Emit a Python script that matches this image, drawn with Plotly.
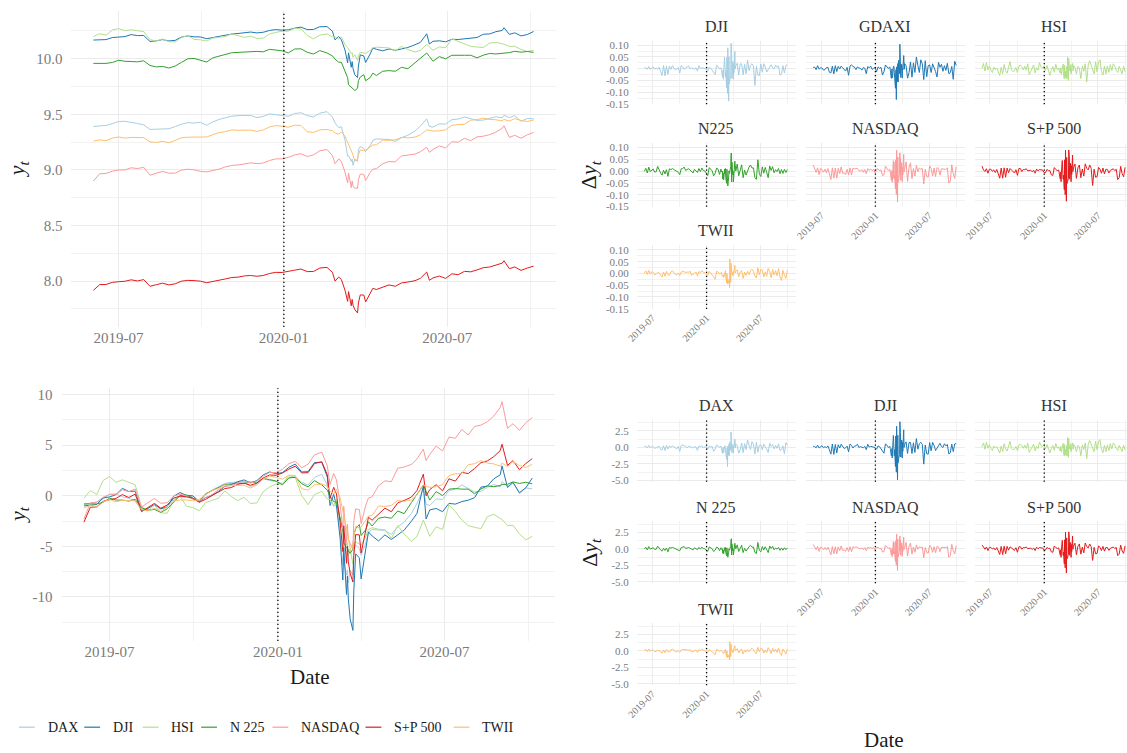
import pandas as pd
import plotly.graph_objects as go

# ---------------------------------------------------------------- dates
LEVEL_DATES = [
    "2019-06-03", "2019-06-10", "2019-06-17", "2019-06-24", "2019-07-01", "2019-07-08", "2019-07-15", "2019-07-22", "2019-07-29",
    "2019-08-05", "2019-08-12", "2019-08-19", "2019-08-26",
    "2019-09-02", "2019-09-09", "2019-09-16", "2019-09-23", "2019-09-30",
    "2019-10-07", "2019-10-14", "2019-10-21", "2019-10-28",
    "2019-11-04", "2019-11-11", "2019-11-18", "2019-11-25",
    "2019-12-02", "2019-12-09", "2019-12-16", "2019-12-23", "2019-12-30",
    "2020-01-06", "2020-01-13", "2020-01-20", "2020-01-27",
    "2020-02-03", "2020-02-10", "2020-02-18", "2020-02-24", "2020-02-27",
    "2020-03-02", "2020-03-05", "2020-03-09", "2020-03-12", "2020-03-13", "2020-03-16", "2020-03-17", "2020-03-18", "2020-03-20", "2020-03-23", "2020-03-24", "2020-03-26", "2020-03-30",
    "2020-04-01", "2020-04-06", "2020-04-09", "2020-04-13", "2020-04-20", "2020-04-27",
    "2020-05-04", "2020-05-11", "2020-05-18", "2020-05-26",
    "2020-06-01", "2020-06-08", "2020-06-11", "2020-06-15", "2020-06-22", "2020-06-29",
    "2020-07-06", "2020-07-13", "2020-07-20", "2020-07-27",
    "2020-08-03", "2020-08-10", "2020-08-17", "2020-08-24", "2020-08-31",
    "2020-09-02", "2020-09-08", "2020-09-14", "2020-09-21", "2020-09-28",
    "2020-10-05",
]

# return observation dates: every fifth day in calm stretches, every session around the crash
RET_DATES = (list(pd.date_range("2019-06-04", "2020-02-19", freq="5D"))
             + list(pd.bdate_range("2020-02-20", "2020-04-09"))
             + list(pd.date_range("2020-04-14", "2020-10-01", freq="5D")))

NAMES = ["DAX", "DJI", "HSI", "N 225", "NASDAQ", "S+P 500", "TWII"]
FACET_NAMES_LOG = ["DJI", "GDAXI", "HSI", "N225", "NASDAQ", "S+P 500", "TWII"]
PALETTE = ["#A6CEE3", "#1F78B4", "#B2DF8A", "#33A02C", "#FB9A99", "#E31A1C", "#FDBF6F"]

# ---------------------------------------------------------------- log index levels y_t
log_dax = [9.390, 9.396, 9.400, 9.415, 9.435, 9.437, 9.424, 9.417, 9.405,
           9.364, 9.366, 9.369, 9.370,
           9.389, 9.411, 9.425, 9.421, 9.428,
           9.401, 9.432, 9.454, 9.468,
           9.483, 9.488, 9.489, 9.490,
           9.470, 9.481, 9.504, 9.496, 9.492,
           9.482, 9.507, 9.514, 9.488,
           9.476, 9.510, 9.524, 9.475, 9.423,
           9.381, 9.388, 9.271, 9.123, 9.130, 9.076, 9.098, 9.041, 9.097, 9.076, 9.180, 9.210, 9.192,
           9.164, 9.218, 9.265, 9.278, 9.276, 9.274,
           9.256, 9.290, 9.311, 9.350,
           9.394, 9.459, 9.390, 9.385, 9.414, 9.412,
           9.452, 9.457, 9.476, 9.460,
           9.445, 9.448, 9.466, 9.478, 9.468,
           9.491, 9.470, 9.488, 9.437, 9.463,
           9.459]
log_dji = [10.168, 10.170, 10.172, 10.190, 10.193, 10.199, 10.217, 10.208, 10.209,
           10.155, 10.161, 10.172, 10.160,
           10.165, 10.195, 10.205, 10.197, 10.196,
           10.180, 10.191, 10.197, 10.208,
           10.222, 10.227, 10.235, 10.240,
           10.232, 10.238, 10.254, 10.262, 10.257,
           10.260, 10.275, 10.284, 10.262,
           10.263, 10.288, 10.289, 10.248, 10.169,
           10.200, 10.170, 10.079, 9.963, 10.053, 9.923, 9.974, 9.911, 9.855, 9.831, 9.934, 10.035, 10.025,
           9.966, 10.042, 10.096, 10.085, 10.071, 10.088,
           10.075, 10.088, 10.101, 10.126,
           10.147, 10.224, 10.132, 10.157, 10.161, 10.152,
           10.175, 10.173, 10.180, 10.184,
           10.191, 10.220, 10.223, 10.243, 10.254,
           10.279, 10.219, 10.233, 10.205, 10.218,
           10.245]
log_hsi = [10.200, 10.225, 10.212, 10.258, 10.271, 10.252, 10.260, 10.253, 10.244,
           10.172, 10.159, 10.177, 10.153,
           10.151, 10.192, 10.208, 10.174, 10.170,
           10.159, 10.186, 10.193, 10.200,
           10.224, 10.206, 10.192, 10.203,
           10.183, 10.185, 10.222, 10.237, 10.247,
           10.248, 10.274, 10.268, 10.209,
           10.179, 10.212, 10.223, 10.197, 10.195,
           10.177, 10.195, 10.128, 10.099, 10.087, 10.046, 10.055, 10.012, 10.035, 9.985, 10.029, 10.058, 10.051,
           10.047, 10.075, 10.098, 10.104, 10.099, 10.097,
           10.069, 10.111, 10.083, 10.060,
           10.075, 10.129, 10.106, 10.076, 10.107, 10.098,
           10.179, 10.157, 10.129, 10.111,
           10.105, 10.101, 10.140, 10.148, 10.134,
           10.131, 10.111, 10.112, 10.084, 10.064,
           10.076]
log_n225 = [9.958, 9.959, 9.958, 9.966, 9.986, 9.977, 9.977, 9.972, 9.981,
            9.939, 9.926, 9.931, 9.916,
            9.934, 9.967, 9.999, 10.003, 9.988,
            9.970, 10.008, 10.023, 10.038,
            10.054, 10.057, 10.061, 10.059,
            10.066, 10.062, 10.084, 10.078, 10.071,
            10.052, 10.087, 10.089, 10.058,
            10.042, 10.073, 10.052, 10.026, 9.996,
            9.969, 9.968, 9.888, 9.829, 9.766, 9.741, 9.742, 9.725, 9.714, 9.734, 9.803, 9.835, 9.856,
            9.802, 9.830, 9.870, 9.849, 9.887, 9.893,
            9.887, 9.923, 9.910, 9.965,
            10.002, 10.051, 10.020, 9.977, 10.019, 9.999,
            10.031, 10.034, 10.031, 10.031,
            10.008, 10.032, 10.047, 10.043, 10.049,
            10.054, 10.055, 10.067, 10.059, 10.065,
            10.057]
log_nasdaq = [8.900, 8.965, 8.968, 8.988, 8.999, 8.999, 9.019, 9.012, 9.023,
              8.952, 8.970, 8.987, 8.969,
              8.971, 8.998, 9.006, 9.001, 8.987,
              8.982, 8.993, 9.007, 9.027,
              9.040, 9.044, 9.054, 9.063,
              9.056, 9.062, 9.084, 9.099, 9.099,
              9.113, 9.135, 9.145, 9.120,
              9.135, 9.172, 9.183, 9.129, 9.056,
              9.100, 9.075, 8.981, 8.882, 8.971, 8.840, 8.900, 8.852, 8.836, 8.834, 8.912, 8.962, 8.959,
              8.904, 8.976, 9.006, 9.011, 9.055, 9.075,
              9.072, 9.126, 9.131, 9.142,
              9.164, 9.203, 9.158, 9.183, 9.216, 9.198,
              9.253, 9.249, 9.284, 9.263,
              9.297, 9.303, 9.317, 9.340, 9.374,
              9.397, 9.292, 9.311, 9.285, 9.316,
              9.336]
log_sp500 = [7.917, 7.968, 7.969, 7.988, 7.994, 7.998, 8.011, 8.001, 8.013,
             7.953, 7.967, 7.981, 7.965,
             7.975, 7.999, 8.006, 8.004, 7.999,
             7.985, 7.995, 8.008, 8.019,
             8.032, 8.035, 8.046, 8.050,
             8.043, 8.050, 8.068, 8.078, 8.077,
             8.085, 8.098, 8.108, 8.085,
             8.086, 8.117, 8.123, 8.079, 7.999,
             8.036, 8.014, 7.918, 7.817, 7.905, 7.777, 7.835, 7.782, 7.743, 7.713, 7.803, 7.875, 7.874,
             7.812, 7.888, 7.934, 7.924, 7.946, 7.965,
             7.953, 7.983, 7.991, 8.003,
             8.025, 8.081, 8.007, 8.028, 8.045, 8.024,
             8.065, 8.057, 8.087, 8.083,
             8.100, 8.120, 8.126, 8.141, 8.161,
             8.183, 8.111, 8.127, 8.096, 8.117,
             8.134]
log_twii = [9.259, 9.270, 9.262, 9.286, 9.296, 9.286, 9.292, 9.291, 9.290,
            9.252, 9.247, 9.257, 9.244,
            9.265, 9.289, 9.294, 9.294, 9.290,
            9.296, 9.317, 9.335, 9.344,
            9.359, 9.356, 9.357, 9.358,
            9.346, 9.359, 9.386, 9.398, 9.393,
            9.384, 9.402, 9.400, 9.343,
            9.337, 9.360, 9.363, 9.353, 9.332,
            9.321, 9.341, 9.304, 9.252, 9.223, 9.182, 9.153, 9.129, 9.082, 9.093, 9.136, 9.180, 9.172,
            9.176, 9.210, 9.224, 9.226, 9.268, 9.266,
            9.270, 9.292, 9.288, 9.295,
            9.315, 9.360, 9.353, 9.349, 9.351, 9.361,
            9.400, 9.408, 9.409, 9.447,
            9.452, 9.465, 9.454, 9.451, 9.441,
            9.454, 9.439, 9.461, 9.444, 9.435,
            9.449]

# ---------------------------------------------------------------- standardised cumulative series y_t
std_dax = [-0.84, -0.71, -0.62, -0.29, 0.16, 0.20, -0.09, -0.24, -0.51,
           -1.42, -1.38, -1.31, -1.29,
           -0.87, -0.38, -0.07, -0.16, 0.00,
           -0.60, 0.09, 0.58, 0.89,
           1.22, 1.33, 1.36, 1.38,
           0.93, 1.18, 1.69, 1.51, 1.42,
           1.20, 1.76, 1.91, 1.33,
           1.07, 1.82, 2.13, 1.04, -0.11,
           -1.04, -0.89, -3.49, -6.78, -6.62, -7.82, -7.33, -8.60, -7.36, -7.82, -5.51, -4.84, -5.24,
           -5.87, -4.67, -3.62, -3.33, -3.38, -3.42,
           -3.82, -3.07, -2.60, -1.73,
           -0.76, 0.69, -0.84, -0.96, -0.31, -0.36,
           0.53, 0.64, 1.07, 0.71,
           0.38, 0.44, 0.84, 1.11, 0.89,
           1.40, 0.93, 1.33, 0.20, 0.78,
           0.69]
std_dji = [-1.00, -0.93, -0.86, -0.21, -0.11, 0.11, 0.75, 0.43, 0.46,
           -1.46, -1.25, -0.86, -1.29,
           -1.11, -0.04, 0.32, 0.04, 0.00,
           -0.57, -0.18, 0.04, 0.43,
           0.93, 1.11, 1.39, 1.57,
           1.29, 1.50, 2.07, 2.36, 2.18,
           2.29, 2.82, 3.14, 2.36,
           2.39, 3.29, 3.32, 1.86, -0.96,
           0.14, -0.93, -4.18, -8.32, -5.11, -9.75, -7.93, -10.18, -12.18, -13.30, -9.36, -5.75, -6.11,
           -8.21, -5.50, -3.57, -3.96, -4.46, -3.86,
           -4.32, -3.86, -3.39, -2.50,
           -1.75, 1.00, -2.29, -1.39, -1.25, -1.57,
           -0.75, -0.82, -0.57, -0.43,
           -0.18, 0.86, 0.96, 1.68, 2.07,
           2.96, 0.82, 1.32, 0.32, 0.79,
           1.75]
std_hsi = [-0.24, 0.52, 0.12, 1.52, 1.91, 1.33, 1.58, 1.36, 1.09,
           -1.09, -1.48, -0.94, -1.67,
           -1.73, -0.48, 0.00, -1.03, -1.15,
           -1.48, -0.67, -0.45, -0.24,
           0.48, -0.06, -0.48, -0.15,
           -0.76, -0.70, 0.42, 0.88, 1.18,
           1.21, 2.00, 1.82, 0.03,
           -0.88, 0.12, 0.45, -0.33, -0.39,
           -0.94, -0.39, -2.42, -3.30, -3.67, -4.91, -4.64, -5.94, -5.24, -6.76, -5.42, -4.55, -4.76,
           -4.88, -4.03, -3.33, -3.15, -3.30, -3.36,
           -4.21, -2.94, -3.79, -4.48,
           -4.03, -2.39, -3.09, -4.00, -3.06, -3.33,
           -0.88, -1.55, -2.39, -2.94,
           -3.12, -3.24, -2.06, -1.82, -2.24,
           -2.33, -2.94, -2.91, -3.76, -4.36,
           -4.00]
std_n225 = [-0.80, -0.78, -0.80, -0.64, -0.24, -0.42, -0.42, -0.52, -0.34,
            -1.18, -1.44, -1.34, -1.64,
            -1.28, -0.62, 0.02, 0.10, -0.20,
            -0.56, 0.20, 0.50, 0.80,
            1.12, 1.18, 1.26, 1.22,
            1.36, 1.28, 1.72, 1.60, 1.46,
            1.08, 1.78, 1.82, 1.20,
            0.88, 1.50, 1.08, 0.56, -0.04,
            -0.58, -0.60, -2.20, -3.38, -4.64, -5.14, -5.12, -5.46, -5.68, -5.28, -3.90, -3.26, -2.84,
            -3.92, -3.36, -2.56, -2.98, -2.22, -2.10,
            -2.22, -1.50, -1.76, -0.66,
            0.08, 1.06, 0.44, -0.42, 0.42, 0.02,
            0.66, 0.72, 0.66, 0.66,
            0.20, 0.68, 0.98, 0.90, 1.02,
            1.12, 1.14, 1.38, 1.22, 1.34,
            1.18]
std_nasdaq = [-2.30, -0.69, -0.63, -0.14, 0.12, 0.11, 0.60, 0.41, 0.67,
              -1.11, -0.68, -0.26, -0.73,
              -0.69, -0.03, 0.16, 0.02, -0.34,
              -0.48, -0.21, 0.12, 0.61,
              0.92, 1.01, 1.25, 1.46,
              1.27, 1.41, 1.95, 2.31, 2.30,
              2.63, 3.17, 3.41, 2.77,
              3.13, 4.05, 4.31, 2.95, 1.12,
              2.21, 1.58, -0.78, -3.26, -1.04, -4.60, -2.82, -4.30, -4.70, -5.20, -2.53, -1.29, -1.37,
              -2.75, -0.95, -0.21, -0.09, 1.00, 1.48,
              1.40, 2.73, 2.85, 3.11,
              3.65, 4.61, 3.48, 4.10, 4.91, 4.44,
              5.81, 5.69, 6.56, 6.02,
              6.86, 6.99, 7.33, 7.89, 8.73,
              9.30, 6.67, 7.13, 6.47, 7.23,
              7.72]
std_sp500 = [-2.61, -1.13, -1.10, -0.55, -0.38, -0.26, 0.12, -0.17, 0.17,
             -1.57, -1.16, -0.75, -1.22,
             -0.93, -0.23, -0.03, -0.09, -0.23,
             -0.64, -0.35, 0.03, 0.35,
             0.72, 0.81, 1.13, 1.25,
             1.04, 1.25, 1.77, 2.06, 2.03,
             2.26, 2.64, 2.93, 2.26,
             2.29, 3.19, 3.36, 2.09, -0.23,
             0.84, 0.20, -2.58, -5.51, -2.96, -6.67, -4.99, -6.52, -7.65, -8.52, -5.91, -3.83, -3.86,
             -5.65, -3.45, -2.12, -2.41, -1.77, -1.22,
             -1.57, -0.70, -0.46, -0.12,
             0.52, 2.14, 0.00, 0.61, 1.10, 0.49,
             1.68, 1.45, 2.32, 2.20,
             2.70, 3.28, 3.45, 3.88, 4.46,
             5.10, 3.01, 3.48, 2.58, 3.19,
             3.68]
std_twii = [-1.20, -0.95, -1.14, -0.59, -0.36, -0.59, -0.45, -0.48, -0.50,
            -1.36, -1.48, -1.25, -1.55,
            -1.07, -0.52, -0.41, -0.41, -0.50,
            -0.36, 0.11, 0.52, 0.73,
            1.07, 1.00, 1.02, 1.05,
            0.77, 1.07, 1.68, 1.95, 1.84,
            1.64, 2.05, 2.00, 0.70,
            0.57, 1.09, 1.16, 0.93, 0.45,
            0.20, 0.66, -0.18, -1.36, -2.02, -2.95, -3.61, -4.16, -5.23, -4.98, -4.00, -3.00, -3.18,
            -3.09, -2.32, -2.00, -1.95, -1.00, -1.05,
            -0.95, -0.45, -0.55, -0.39,
            0.07, 1.09, 0.93, 0.84, 0.89, 1.11,
            2.00, 2.18, 2.20, 3.07,
            3.18, 3.48, 3.23, 3.16, 2.93,
            3.23, 2.89, 3.39, 3.00, 2.80,
            3.11]

# ---------------------------------------------------------------- log returns Δy_t
ret_dax = [
    0.005, 0.007, -0.004, 0.013, -0.002, 0.004, 0.003, -0.006, -0.004, 0.005, 0.006, -0.015,
    -0.018, 0.011, -0.022, 0.013, -0.012, 0.010, -0.001, 0.011, 0.004, -0.003, -0.010, 0.006, -0.028, 0.012,
    0.016, 0.010, 0.007, -0.004, 0.008, 0.003, 0.002, -0.006, 0.005, 0.002, -0.021, 0.009,
    0.004, 0.011, -0.003, 0.002, 0.004, -0.013, 0.008, 0.002, 0.006, -0.027, -0.013, 0.016, 0.007, 0.001, 0.008,
    -0.009, -0.006, -0.041, -0.019, -0.001, -0.032, -0.039,
    0.009, 0.011, 0.010, -0.015, -0.034, -0.083, -0.014, -0.004, -0.131, 0.008,
    -0.054, 0.022, -0.057, 0.020, 0.036, -0.021, 0.104, 0.018, 0.013, -0.037, 0.019, 0.012,
    -0.040, 0.003, -0.005, 0.056, 0.028, -0.002, 0.022,
    0.013, -0.040, -0.017, 0.029, -0.036, 0.025, -0.016, 0.050, 0.014, -0.016, 0.038, 0.021,
    -0.046, 0.034, -0.034, 0.013, 0.016, -0.016, 0.021, 0.006, -0.012, -0.035, 0.027, 0.006,
    0.019, -0.011, 0.013, -0.007, 0.023, -0.021, -0.017, 0.010, -0.045, 0.032, 0.014]
ret_dji = [
    0.004, 0.003, -0.002, 0.009, -0.003, 0.004, 0.007, -0.002, 0.003, -0.002, 0.006, -0.011,
    -0.029, 0.014, -0.030, 0.012, -0.024, 0.011, -0.003, 0.013, 0.002, -0.005, -0.002, 0.005, -0.019, 0.014,
    0.008, -0.003, 0.005, 0.006, 0.013, -0.001, 0.003, 0.002, -0.002, 0.004, -0.010, 0.013,
    0.001, 0.004, 0.002, 0.003, -0.001, -0.008, 0.006, 0.003, -0.005, -0.016, -0.025, 0.014, 0.009, -0.001, 0.004,
    -0.004, -0.008, -0.036, -0.032, -0.005, -0.045, -0.014,
    0.050, -0.030, 0.044, -0.036, -0.010, -0.081, 0.048, -0.060, -0.105, 0.089,
    -0.138, 0.051, -0.065, 0.009, -0.047, -0.031, 0.108, 0.024, 0.062, -0.041, 0.031, -0.019,
    -0.045, 0.022, -0.017, 0.074, -0.001, 0.034, 0.012,
    0.023, -0.026, 0.020, 0.021, -0.026, 0.019, -0.022, 0.037, -0.008, 0.015, 0.021, 0.012,
    -0.071, 0.010, -0.027, -0.029, 0.020, -0.015, 0.021, 0.008, -0.014, -0.002, 0.009, 0.017,
    0.004, -0.001, 0.015, 0.006, 0.012, -0.028, -0.023, 0.013, -0.018, 0.014, 0.016]
ret_hsi = [
    0.003, 0.022, -0.010, 0.026, -0.005, 0.012, -0.006, -0.016, 0.007, -0.004, 0.003, -0.012,
    -0.029, 0.006, -0.021, 0.018, -0.008, -0.019, 0.012, 0.030, -0.006, -0.012, -0.009, 0.005, -0.016, 0.012,
    0.015, 0.008, -0.005, 0.011, -0.006, 0.021, -0.026, -0.012, 0.008, 0.016, -0.018, 0.004,
    -0.006, 0.026, 0.008, 0.004, 0.012, -0.008, 0.014, -0.003, -0.028, -0.006, 0.009, -0.015, 0.019, -0.004, 0.002,
    0.002, -0.011, -0.018, 0.003, -0.007, -0.001, -0.024,
    0.006, 0.011, -0.002, 0.020, -0.024, -0.043, 0.014, -0.007, -0.037, -0.011,
    -0.041, 0.009, -0.043, -0.026, 0.049, -0.050, 0.044, 0.037, -0.007, 0.006, -0.013, 0.018,
    -0.022, 0.008, -0.002, 0.022, 0.021, -0.010, 0.012,
    0.008, -0.022, 0.010, 0.003, -0.042, 0.012, -0.011, 0.021, -0.056, 0.015, 0.034, 0.012,
    -0.009, -0.022, 0.030, -0.013, 0.029, 0.038, -0.012, -0.027, 0.011, -0.022, 0.012, -0.016,
    0.018, -0.008, 0.021, 0.012, -0.007, -0.016, 0.010, -0.004, -0.021, 0.011, -0.013]
ret_n225 = [
    -0.001, 0.012, -0.008, 0.017, -0.002, 0.004, 0.009, -0.004, -0.003, 0.020, 0.001, -0.008,
    -0.017, 0.004, -0.012, 0.006, -0.022, 0.010, 0.006, 0.011, 0.007, 0.002, -0.001, -0.005, -0.015, 0.010,
    0.011, 0.017, 0.003, 0.006, 0.010, 0.005, -0.004, -0.008, 0.008, 0.001, -0.006, 0.011,
    -0.002, 0.013, 0.002, 0.001, -0.008, -0.019, 0.015, 0.007, 0.001, -0.020, -0.010, 0.013, 0.008, -0.014, 0.009,
    0.003, -0.004, 0.000, -0.034, -0.008, -0.022, -0.037,
    0.009, -0.012, 0.000, 0.011, -0.028, -0.052, 0.008, -0.023, -0.045, -0.063,
    -0.025, 0.001, -0.017, -0.010, 0.000, 0.020, 0.069, 0.077, -0.046, 0.038, -0.016, 0.000,
    -0.046, -0.014, 0.000, 0.042, 0.020, 0.021, 0.000,
    0.030, -0.020, 0.008, 0.027, -0.028, 0.004, -0.017, 0.005, 0.017, 0.026, 0.013, 0.014,
    -0.028, -0.035, 0.048, -0.012, -0.023, 0.018, -0.009, 0.016, -0.007, -0.028, 0.022, 0.003,
    0.019, -0.007, 0.006, -0.002, 0.011, -0.011, 0.007, -0.010, 0.008, -0.006, 0.007]
ret_nasdaq = [
    0.026, 0.010, -0.005, 0.014, -0.015, 0.011, 0.007, -0.005, 0.008, -0.007, 0.011, -0.012,
    -0.036, 0.014, -0.030, 0.013, -0.030, 0.012, -0.011, 0.018, -0.010, -0.007, -0.015, 0.008, -0.016, 0.013,
    -0.017, 0.013, 0.009, 0.011, 0.011, 0.002, 0.001, 0.006, -0.005, 0.007, -0.011, 0.010,
    0.004, 0.009, 0.002, 0.008, -0.008, 0.008, 0.010, 0.002, 0.005, -0.019, -0.016, 0.021, 0.010, 0.002, 0.009,
    -0.007, -0.018, -0.038, -0.028, 0.002, -0.047, 0.000,
    0.044, -0.030, 0.038, -0.031, -0.019, -0.076, 0.048, -0.048, -0.099, 0.089,
    -0.131, 0.060, -0.048, 0.023, -0.039, -0.003, 0.078, -0.005, 0.054, -0.039, 0.036, -0.010,
    -0.045, 0.017, -0.015, 0.071, -0.003, 0.025, 0.008,
    0.039, -0.044, 0.016, 0.035, -0.032, 0.011, -0.021, 0.024, -0.002, 0.013, 0.008, 0.011,
    -0.054, 0.008, -0.022, -0.026, 0.022, 0.011, -0.021, 0.013, -0.023, 0.015, 0.011, -0.017,
    0.010, 0.009, 0.010, 0.007, 0.014, -0.051, -0.042, 0.027, -0.011, -0.031, 0.019]
ret_sp500 = [
    0.021, 0.005, -0.002, 0.010, -0.009, 0.008, 0.008, -0.001, 0.005, -0.006, 0.007, -0.011,
    -0.030, 0.013, -0.030, 0.014, -0.026, 0.013, -0.007, 0.011, 0.003, -0.005, -0.008, 0.006, -0.018, 0.011,
    0.011, -0.002, 0.007, 0.006, 0.010, 0.001, 0.001, 0.004, -0.003, 0.004, -0.009, 0.009,
    0.001, 0.007, 0.005, 0.005, -0.006, -0.007, 0.007, 0.002, 0.003, -0.016, -0.018, 0.015, 0.007, 0.002, 0.005,
    -0.004, -0.011, -0.034, -0.031, -0.004, -0.045, -0.008,
    0.045, -0.028, 0.041, -0.034, -0.017, -0.079, 0.048, -0.050, -0.100, 0.089,
    -0.128, 0.058, -0.053, 0.005, -0.044, -0.030, 0.090, 0.011, 0.061, -0.034, 0.033, -0.016,
    -0.045, 0.023, -0.015, 0.068, -0.002, 0.034, 0.014,
    0.030, -0.031, 0.014, 0.026, -0.028, 0.009, -0.021, 0.031, 0.012, 0.005, 0.026, 0.012,
    -0.061, 0.008, -0.026, -0.024, 0.016, 0.008, -0.009, 0.013, -0.012, 0.008, 0.007, -0.008,
    0.003, 0.006, 0.010, 0.002, 0.008, -0.036, -0.028, 0.020, -0.011, -0.024, 0.016]
ret_twii = [
    0.002, 0.011, -0.004, 0.013, -0.003, 0.007, 0.005, -0.006, -0.002, 0.004, 0.002, -0.008,
    -0.015, 0.006, -0.012, 0.009, -0.005, -0.008, 0.007, 0.012, 0.003, -0.004, -0.006, 0.002, -0.009, 0.006,
    0.010, 0.008, 0.004, 0.006, 0.005, 0.009, -0.007, -0.004, 0.003, 0.006, -0.010, 0.008,
    0.003, 0.012, 0.005, 0.003, -0.003, -0.008, 0.009, 0.002, -0.006, -0.014, -0.025, 0.009, 0.006, -0.003, 0.004,
    0.004, -0.002, -0.012, -0.007, -0.010, -0.006, -0.017,
    -0.003, 0.009, 0.000, 0.012, -0.012, -0.040, 0.000, -0.014, -0.044, -0.028,
    -0.042, -0.029, -0.023, -0.060, 0.062, -0.038, 0.043, 0.038, 0.006, 0.004, -0.011, 0.008,
    -0.005, 0.008, 0.010, 0.034, 0.002, 0.005, 0.009,
    0.015, -0.014, 0.006, 0.012, -0.021, 0.005, -0.008, 0.009, -0.005, 0.011, 0.018, 0.008,
    -0.011, -0.019, 0.024, -0.006, 0.016, 0.014, -0.015, 0.006, -0.012, 0.022, 0.009, -0.018,
    0.017, -0.006, 0.012, -0.010, 0.020, -0.015, -0.030, 0.013, -0.008, -0.021, 0.013]

# scale used to standardise each return series
RET_SCALE = [0.045, 0.028, 0.033, 0.050, 0.040, 0.035, 0.044]

LOG_SERIES = [log_dax, log_dji, log_hsi, log_n225, log_nasdaq, log_sp500, log_twii]
STD_SERIES = [std_dax, std_dji, std_hsi, std_n225, std_nasdaq, std_sp500, std_twii]
RET_SERIES = [ret_dax, ret_dji, ret_hsi, ret_n225, ret_nasdaq, ret_sp500, ret_twii]

for s in LOG_SERIES + STD_SERIES:
    assert len(s) == len(LEVEL_DATES), len(s)
for s in RET_SERIES:
    assert len(s) == len(RET_DATES), len(s)

# facet order of the return grids
LOG_FACET_DATA = [ret_dji, ret_dax, ret_hsi, ret_n225, ret_nasdaq, ret_sp500, ret_twii]
STD_FACET_DATA = [[v / sc for v in r] for r, sc in zip(RET_SERIES, RET_SCALE)]

# ---------------------------------------------------------------- styling
W, H = 1127, 753
FONT = "Liberation Serif"
TICK_COLOR = "#7A7A7A"
TEXT_COLOR = "#1A1A1A"
STRIP_COLOR = "#333333"
GRID_MAJOR = "#EBEBEB"
GRID_MINOR = "#F2F2F2"
BREAK_LINE = dict(color="black", width=1.3, dash="1.3px,2.7px")

X_START = "2019-05-09 12:00"
X_END = "2020-10-29 12:00"
X_END_CLIPPED = "2020-10-07 12:00"
X_MAJOR = ["2019-07-01", "2020-01-01", "2020-07-01"]
X_MAJOR_TEXT = ["2019-07", "2020-01", "2020-07"]
X_MINOR = ["2019-10-01", "2020-04-01", "2020-10-01"]
BREAK_DATE = "2020-01-01"


def fx(p):
    return p / W


def fy(p):
    return 1 - p / H


def date_axis(dom, anchor, end, labels, size, angle=0):
    return dict(domain=dom, anchor=anchor, type="date", range=[X_START, end],
                tickmode="array", tickvals=X_MAJOR, ticktext=X_MAJOR_TEXT,
                showticklabels=labels, tickangle=angle,
                tickfont=dict(family=FONT, size=size, color=TICK_COLOR),
                showgrid=True, gridcolor=GRID_MAJOR, gridwidth=1,
                minor=dict(tickmode="array", tickvals=X_MINOR, showgrid=True,
                           gridcolor=GRID_MINOR, gridwidth=0.8),
                ticks="", showline=False, zeroline=False, fixedrange=True)


def value_axis(dom, anchor, rng, vals, text, minor_vals, labels, size, standoff):
    return dict(domain=dom, anchor=anchor, range=rng,
                tickmode="array", tickvals=vals, ticktext=text,
                showticklabels=labels, ticklabelstandoff=standoff,
                tickfont=dict(family=FONT, size=size, color=TICK_COLOR),
                showgrid=True, gridcolor=GRID_MAJOR, gridwidth=1,
                minor=dict(tickmode="array", tickvals=minor_vals, showgrid=True,
                           gridcolor=GRID_MINOR, gridwidth=0.8),
                ticks="", showline=False, zeroline=False, fixedrange=True)


fig = go.Figure()
axes = {}
shapes = []
annotations = []


def ax_names(n):
    return ("x" if n == 1 else f"x{n}"), ("y" if n == 1 else f"y{n}")


def add_break(n):
    xa, ya = ax_names(n)
    shapes.append(dict(type="line", xref=xa, yref=f"{ya} domain", x0=BREAK_DATE, x1=BREAK_DATE,
                       y0=0, y1=1, line=BREAK_LINE, layer="above"))


def text_at(px, py, txt, size, color=TEXT_COLOR, angle=0, anchor="center"):
    annotations.append(dict(text=txt, x=fx(px), y=fy(py), xref="paper", yref="paper",
                            xanchor=anchor, yanchor="middle", showarrow=False, textangle=angle,
                            font=dict(family=FONT, size=size, color=color)))


# ---------------------------------------------------------------- left: log levels
axes["xaxis"] = date_axis([fx(61), fx(550)], "y", X_END, True, 15)
axes["yaxis"] = value_axis([fy(328), fy(9)], "x", [7.587, 10.43],
                           [8.0, 8.5, 9.0, 9.5, 10.0], ["8.0", "8.5", "9.0", "9.5", "10.0"],
                           [7.75, 8.25, 8.75, 9.25, 9.75, 10.25], True, 15, 8)
for vals, name, col in zip(LOG_SERIES, NAMES, PALETTE):
    fig.add_trace(go.Scatter(x=LEVEL_DATES, y=vals, mode="lines", name=name, showlegend=False,
                             line=dict(color=col, width=1), xaxis="x", yaxis="y", hoverinfo="skip"))
add_break(1)
text_at(8, 168, "<i>y</i><sub><i>t</i></sub>", 22, angle=-90)

# ---------------------------------------------------------------- left: standardised levels
axes["xaxis2"] = date_axis([fx(51), fx(549)], "y2", X_END, True, 15)
axes["yaxis2"] = value_axis([fy(645), fy(390)], "x2", [-14.35, 10.62],
                            [-10, -5, 0, 5, 10], ["-10", "-5", "0", "5", "10"],
                            [-12.5, -7.5, -2.5, 2.5, 7.5], True, 15, 8)
for vals, name, col in zip(STD_SERIES, NAMES, PALETTE):
    fig.add_trace(go.Scatter(x=LEVEL_DATES, y=vals, mode="lines", name=name, showlegend=False,
                             line=dict(color=col, width=1), xaxis="x2", yaxis="y2", hoverinfo="skip"))
add_break(2)
text_at(8, 517, "<i>y</i><sub><i>t</i></sub>", 22, angle=-90)
text_at(302, 681, "Date", 21)

# legend key for the index colours
LEGEND_TEXT_LEFT = [35, 101, 160, 219, 291, 385, 474]
LEGEND_Y = 732
for name, col, tx in zip(NAMES, PALETTE, LEGEND_TEXT_LEFT):
    shapes.append(dict(type="line", xref="paper", yref="paper",
                       x0=fx(tx - 27), x1=fx(tx - 11), y0=fy(LEGEND_Y), y1=fy(LEGEND_Y),
                       line=dict(color=col, width=1.2)))
    text_at(tx, LEGEND_Y, name, 14, anchor="left")

# ---------------------------------------------------------------- right: facet grids of Δy_t
COL_LEFT = [632, 802.5, 973]
COL_WIDTH = 160.5
TOP_ROWS = [(39, 103.3), (142.3, 206.7), (245.6, 310)]
BOT_ROWS = [(421.7, 484.3), (524.3, 586.7), (627.3, 689.7)]


def facet_grid(first_n, rows, titles, data, y_rng, y_vals, y_text, y_minor):
    for i, (title, vals) in enumerate(zip(titles, data)):
        n = first_n + i
        row, col = divmod(i, 3)
        left = COL_LEFT[col]
        right = min(left + COL_WIDTH, W)
        end = X_END_CLIPPED if left + COL_WIDTH > W else X_END
        top, bottom = rows[row]
        xa, ya = ax_names(n)
        show_x = i >= 4
        axes[f"xaxis{n}"] = date_axis([fx(left), fx(right)], ya, end, show_x, 10, angle=-45)
        axes[f"yaxis{n}"] = value_axis([fy(bottom), fy(top)], xa, y_rng, y_vals, y_text, y_minor,
                                       col == 0, 11, 7)
        fig.add_trace(go.Scatter(x=RET_DATES, y=vals, mode="lines", name=title, showlegend=False,
                                 line=dict(color=PALETTE[i], width=1), xaxis=xa, yaxis=ya,
                                 hoverinfo="skip"))
        add_break(n)
        text_at(left + COL_WIDTH / 2, top - 14.5, title, 16, color=STRIP_COLOR)


facet_grid(3, TOP_ROWS, FACET_NAMES_LOG, LOG_FACET_DATA, [-0.1515, 0.1195],
           [-0.15, -0.10, -0.05, 0.0, 0.05, 0.10], ["-0.15", "-0.10", "-0.05", "0.00", "0.05", "0.10"],
           [-0.125, -0.075, -0.025, 0.025, 0.075])
facet_grid(10, BOT_ROWS, NAMES, STD_FACET_DATA, [-5.2, 4.15],
           [-5.0, -2.5, 0.0, 2.5], ["-5.0", "-2.5", "0.0", "2.5"],
           [-3.75, -1.25, 1.25, 3.75])
text_at(585, 174.5, "Δ<i>y</i><sub><i>t</i></sub>", 22, angle=-90)
text_at(585, 555.7, "Δ<i>y</i><sub><i>t</i></sub>", 22, angle=-90)
text_at(882, 745, "Date", 21)

fig.update_layout(
    width=W, height=H, margin=dict(l=0, r=0, t=0, b=0),
    paper_bgcolor="white", plot_bgcolor="white",
    font=dict(family=FONT, color=TEXT_COLOR),
    shapes=shapes, annotations=annotations,
    showlegend=False,
    hovermode=False,
    **axes,
)

fig.write_html("out.html")
